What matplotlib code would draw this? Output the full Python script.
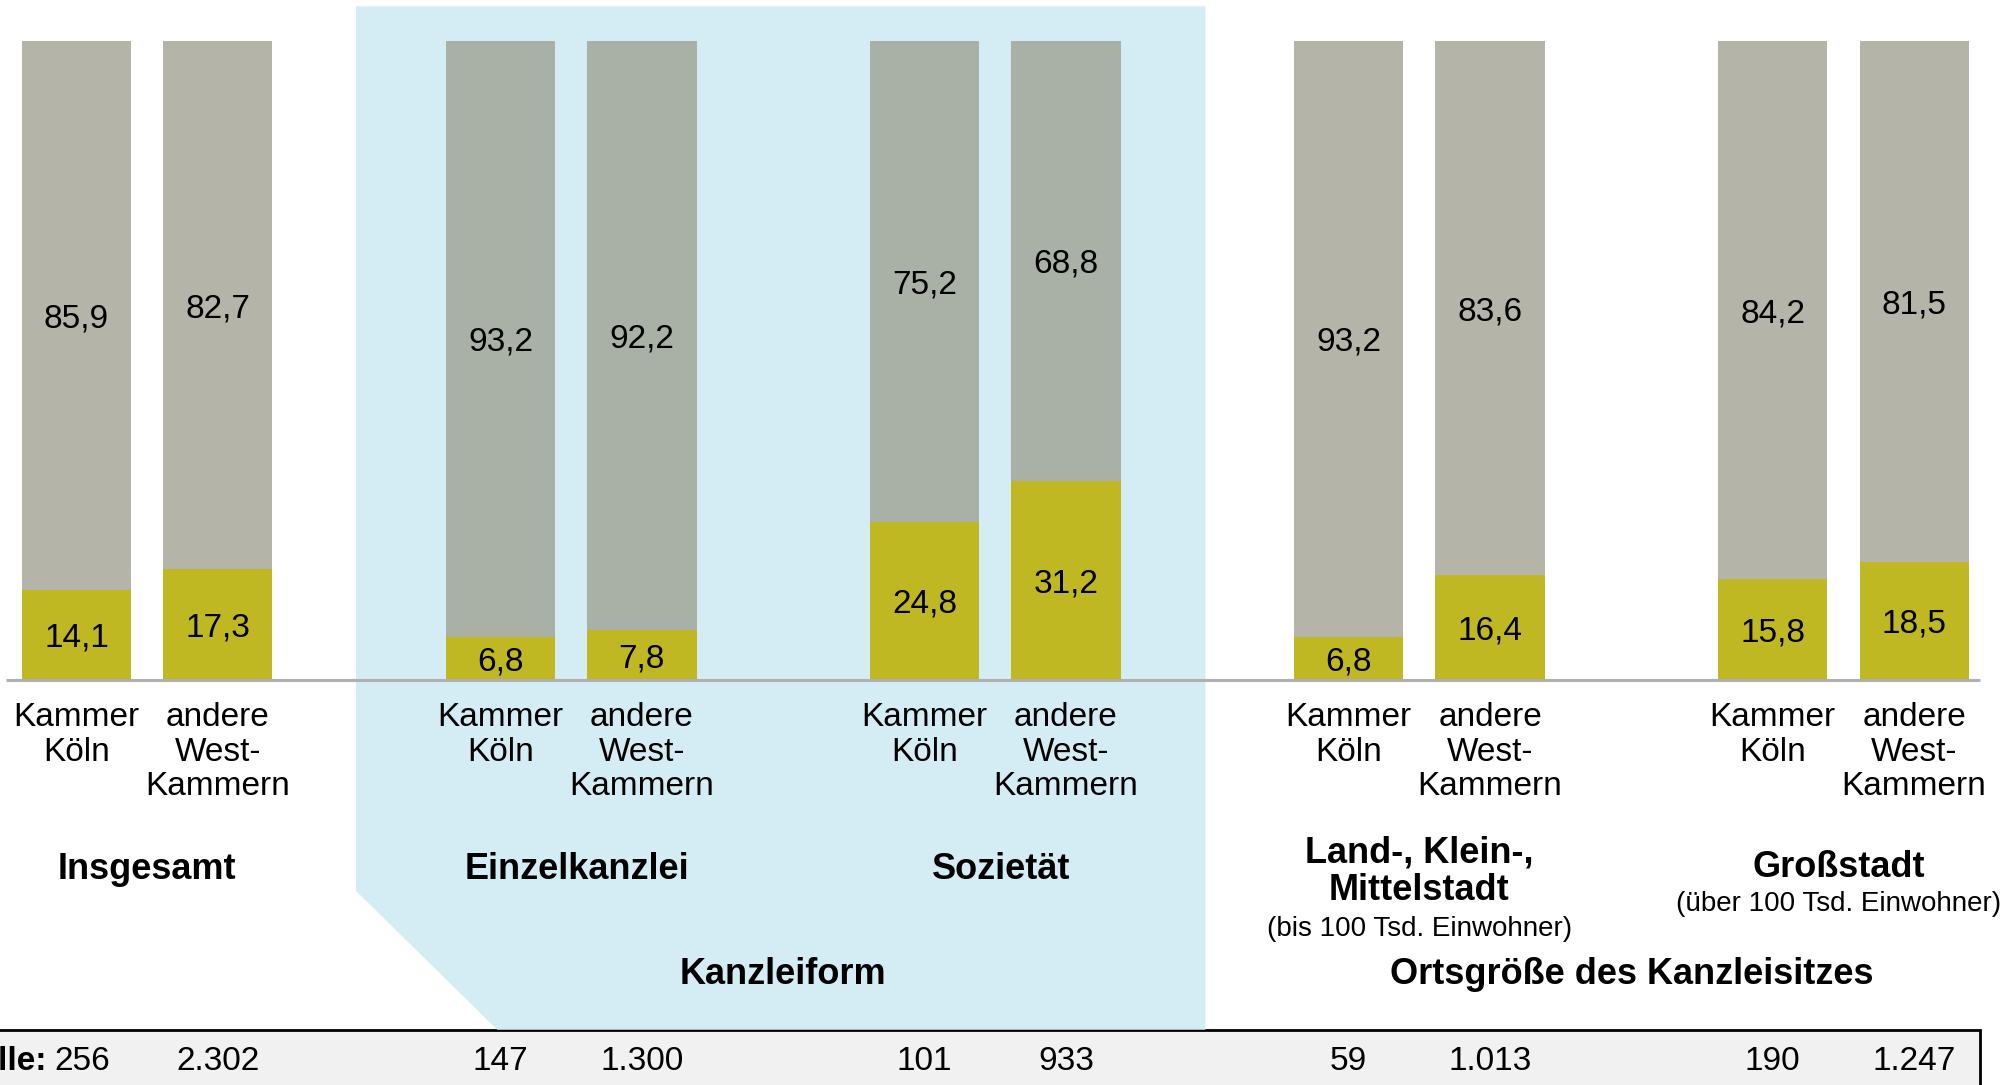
import matplotlib
matplotlib.use("Agg")
import matplotlib.pyplot as plt
from matplotlib.patches import Polygon, Rectangle
from matplotlib.transforms import blended_transform_factory

plt.rcParams["font.family"] = ["Liberation Sans Narrow", "Liberation Sans", "DejaVu Sans"]

# data
groups = ["Insgesamt", "Einzelkanzlei", "Sozietät", "Land-, Klein-,\nMittelstadt", "Großstadt"]
group_notes = ["", "", "", "(bis 100 Tsd. Einwohner)", "(über 100 Tsd. Einwohner)"]
bar_labels = ["Kammer\nKöln", "andere\nWest-\nKammern"]
yellow_vals = [14.1, 17.3, 6.8, 7.8, 24.8, 31.2, 6.8, 16.4, 15.8, 18.5]
gray_vals = [85.9, 82.7, 93.2, 92.2, 75.2, 68.8, 93.2, 83.6, 84.2, 81.5]
case_counts = [256, 2302, 147, 1300, 101, 933, 59, 1013, 190, 1247]
shaded_groups = [1, 2]

YELLOW = "#bfb822"
GRAY_OUT = "#b4b4a8"
GRAY_IN = "#a9b0a5"
SHADE = "#d4ecf3"

fig = plt.figure(figsize=(20.15, 10.85), dpi=100)
ax_bottom = 1 - 680 / 1085
ax_top = 1 - 41 / 1085
ax = fig.add_axes([0, ax_bottom, 1, ax_top - ax_bottom])
ax.set_xlim(-114.5 / 330, (1568 - 114.5) / 330)
ax.set_ylim(0, 100)
ax.axis("off")

px = 100 / 497  # data units per (shrunk) pixel, vertical


def fmt(v):
    return f"{v:.1f}".replace(".", ",")


# shaded block behind "Kanzleiform"
x0 = (277 - 114.5) / 330
x1 = (938 - 114.5) / 330
xd = (387 - 114.5) / 330
y_top = (529 - 5) * px
y_diag = (529 - 693) * px
y_bot = (529 - 801) * px
ax.add_patch(Polygon([(x0, y_top), (x1, y_top), (x1, y_bot), (xd, y_bot), (x0, y_diag)],
                     closed=True, facecolor=SHADE, edgecolor="none", zorder=0, clip_on=False))

offsets = [-1 / 6, 1 / 6]
width = 85 / 330
xs = []
for i, (yv, gv) in enumerate(zip(yellow_vals, gray_vals)):
    g = i // 2
    x = g + offsets[i % 2]
    xs.append(x)
    gc = GRAY_IN if g in shaded_groups else GRAY_OUT
    ax.bar(x, yv, width=width, color=YELLOW, zorder=2)
    ax.bar(x, gv, bottom=yv, width=width, color=gc, zorder=2)
    ax.text(x, yv / 2, fmt(yv), ha="center", va="center_baseline", fontsize=24, zorder=3)
    ax.text(x, yv + gv / 2, fmt(gv), ha="center", va="center_baseline", fontsize=24, zorder=3)

ax.plot([(5 - 114.5) / 330, (1541 - 114.5) / 330], [0, 0], color="#b0b0b0", lw=2.2,
        zorder=3, clip_on=False, solid_capstyle="butt")

tr = blended_transform_factory(ax.transData, fig.transFigure)

# bar category labels
for i, x in enumerate(xs):
    ax.text(x, 1 - 546 / 844, bar_labels[i % 2], transform=tr, ha="center", va="top",
            fontsize=24, linespacing=1.15)

# group labels
for g, (name, note) in enumerate(zip(groups, group_notes)):
    if "\n" in name:
        ax.text(g, 1 - 678 / 844, name, transform=tr, ha="center", va="center",
                fontsize=26, fontweight="bold", linespacing=1.1)
        ax.text(g, 1 - 723 / 844, note, transform=tr, ha="center", va="center", fontsize=20)
    elif note:
        ax.text(g - 0.012, 1 - 675 / 844, name, transform=tr, ha="center", va="center",
                fontsize=26, fontweight="bold")
        ax.text(g - 0.012, 1 - 703 / 844, note, transform=tr, ha="center", va="center",
                fontsize=20)
    else:
        ax.text(g + (0 if g == 0 else 0.014), 1 - 676 / 844, name, transform=tr,
                ha="center", va="center", fontsize=26, fontweight="bold")

ax.text(1.5, 1 - 758 / 844, "Kanzleiform", transform=tr, ha="center", va="center",
        fontsize=26, fontweight="bold")
ax.text(3.5, 1 - 758 / 844, "Ortsgröße des Kanzleisitzes", transform=tr, ha="center",
        va="center", fontsize=26, fontweight="bold")

# case count row
fig.patches.append(Rectangle((-0.01, -0.1), 0.01 + 1541 / 1568, 0.1 + 1 - 801 / 844,
                             transform=fig.transFigure, facecolor="#f1f1f1",
                             edgecolor="black", lw=2, zorder=-1))
fig.text(0.0235, 1 - 826 / 844, "Fälle:", ha="right", va="center", fontsize=24,
         fontweight="bold")
for i, (x, n) in enumerate(zip(xs, case_counts)):
    shift = 0.014 if i == 0 else 0
    ax.text(x + shift, 1 - 826 / 844, f"{n:,}".replace(",", "."), transform=tr,
            ha="center", va="center", fontsize=24)

fig.savefig("out.png", dpi=100)
